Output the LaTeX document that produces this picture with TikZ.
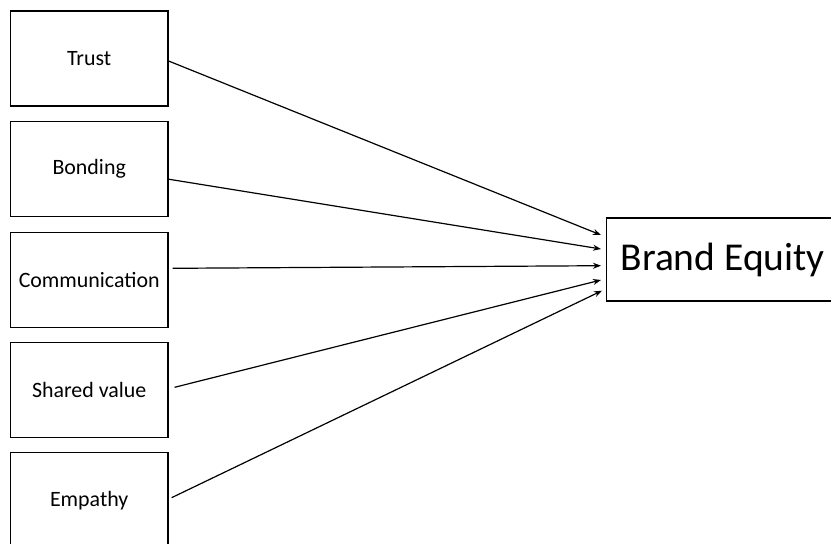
\documentclass[tikz,border=0pt]{standalone}
\usepackage{fontspec}
\setmainfont{Carlito}
\usetikzlibrary{arrows.meta}
\newcommand{\lowtext}[2]{\raisebox{#1}{#2}}
\begin{document}
\begin{tikzpicture}[x=1pt,y=-1pt,
  leftbox/.style={draw,line width=1.3pt,minimum width=157.5pt,minimum height=95pt,inner sep=0pt,font=\fontsize{21.9}{26}\selectfont},
  mainbox/.style={draw,line width=1.3pt,minimum width=228pt,minimum height=83pt,inner sep=0pt,font=\fontsize{39.5}{46}\selectfont},
  conn/.style={line width=1.2pt,-{Stealth[length=8pt,width=6pt]}}]
\useasboundingbox (0,0) rectangle (831,544);
\node[leftbox] (trust) at (89.2,58.5) {\lowtext{-2pt}{Trust}};
\node[leftbox] (bond) at (89.2,169.2) {\lowtext{-2pt}{Bonding}};
\node[leftbox] (comm) at (89.2,279.7) {\lowtext{-2pt}{Communication}};
\node[leftbox] (shared) at (89.2,389.7) {\lowtext{-2pt}{Shared value}};
\node[leftbox] (emp) at (89.2,500.2) {\lowtext{-2pt}{Empathy}};
\node[mainbox,anchor=west] (be) at (606,259.5) {\hspace*{4pt}\lowtext{-3pt}{Brand Equity}\hfill};
\draw[conn] ([yshift=-2.5pt]trust.east) -- ([xshift=-5pt,yshift=24.5pt]be.west);
\draw[conn] ([yshift=-10pt]bond.east) -- ([xshift=-5pt,yshift=10.5pt]be.west);
\draw[conn] ([xshift=4pt,yshift=11.4pt]comm.east) -- ([xshift=-5pt,yshift=-6.2pt]be.west);
\draw[conn] ([xshift=6pt,yshift=2.4pt]shared.east) -- ([xshift=-5pt,yshift=-20.5pt]be.west);
\draw[conn] ([xshift=3pt,yshift=2.5pt]emp.east) -- ([xshift=-4pt,yshift=-31.2pt]be.west);
\end{tikzpicture}
\end{document}
